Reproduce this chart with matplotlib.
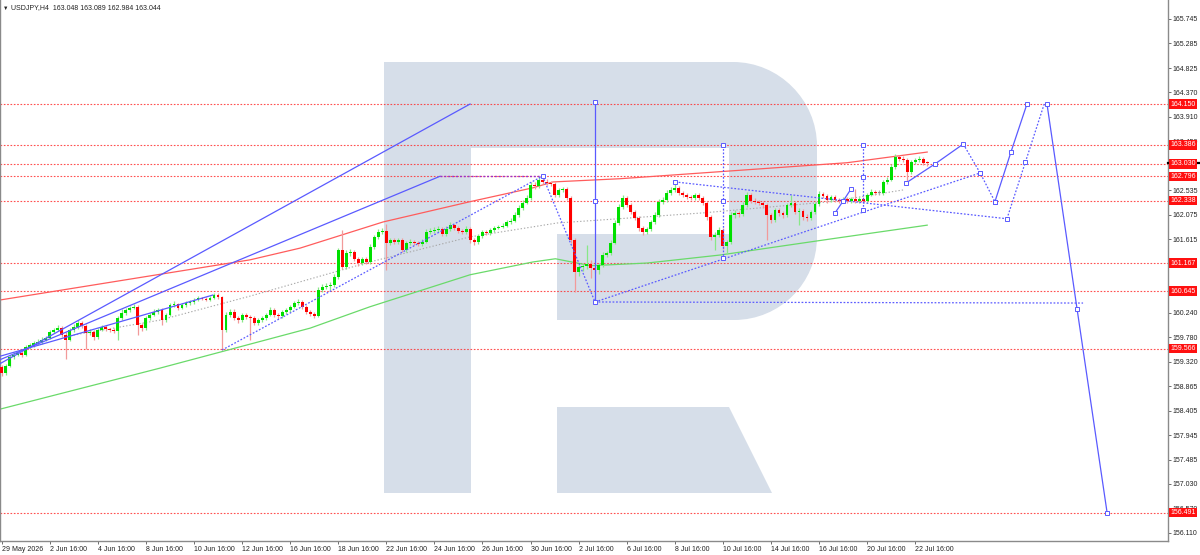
import matplotlib
matplotlib.use("Agg")
import matplotlib.pyplot as plt
from matplotlib.path import Path
from matplotlib.patches import PathPatch, Polygon
from matplotlib.transforms import blended_transform_factory, Affine2D

plt.rcParams['font.family'] = ['Liberation Sans', 'DejaVu Sans']

# ---------------- data ----------------
opens = [159.22, 159.10, 159.24, 159.41, 159.45, 159.48, 159.45, 159.60, 159.63, 159.67,
 159.69, 159.73, 159.77, 159.88, 159.92, 159.95, 159.82, 159.73, 159.92, 159.97,
 160.05, 159.99, 159.86, 159.88, 159.78, 159.92, 159.97, 159.93, 159.92, 159.90,
 160.14, 160.23, 160.29, 160.33, 160.35, 160.01, 159.95, 160.14, 160.20, 160.25,
 160.29, 160.10, 160.20, 160.38, 160.40, 160.33, 160.38, 160.42, 160.44, 160.48,
 160.51, 160.50, 160.48, 160.51, 160.57, 160.53, 159.92, 160.20, 160.25, 160.14,
 160.10, 160.20, 160.16, 160.14, 160.05, 160.10, 160.14, 160.20, 160.29, 160.20,
 160.18, 160.25, 160.29, 160.35, 160.42, 160.44, 160.35, 160.25, 160.22, 160.18,
 160.67, 160.72, 160.74, 160.76, 160.91, 161.42, 161.10, 161.36, 161.38, 161.25,
 161.17, 161.25, 161.19, 161.47, 161.66, 161.75, 161.77, 161.55, 161.60, 161.57,
 161.60, 161.42, 161.55, 161.57, 161.55, 161.53, 161.57, 161.75, 161.77, 161.79,
 161.81, 161.71, 161.81, 161.88, 161.83, 161.77, 161.75, 161.81, 161.60, 161.57,
 161.68, 161.75, 161.73, 161.79, 161.83, 161.85, 161.87, 161.94, 161.96, 162.07,
 162.20, 162.30, 162.39, 162.63, 162.61, 162.73, 162.69, 162.67, 162.65, 162.45,
 162.54, 162.56, 162.39, 161.60, 161.00, 161.10, 161.11, 161.15, 161.08, 161.04,
 161.13, 161.32, 161.36, 161.55, 161.92, 162.22, 162.39, 162.26, 162.13, 162.02,
 161.83, 161.75, 161.81, 161.94, 162.07, 162.32, 162.35, 162.48, 162.54, 162.58,
 162.48, 162.45, 162.41, 162.39, 162.45, 162.39, 162.30, 162.03, 161.66, 161.70,
 161.79, 161.49, 161.57, 162.07, 162.11, 162.09, 162.26, 162.45, 162.33, 162.32,
 162.30, 162.26, 162.07, 161.98, 162.16, 162.11, 162.07, 162.26, 162.30, 162.13,
 162.15, 162.03, 162.02, 162.13, 162.28, 162.46, 162.43, 162.35, 162.41, 162.35,
 162.33, 162.37, 162.33, 162.37, 162.33, 162.37, 162.33, 162.45, 162.50, 162.48,
 162.48, 162.69, 162.73, 162.97, 163.16, 163.12, 163.10, 162.88, 163.07, 163.10,
 163.12, 163.048]

closes = [159.10, 159.24, 159.41, 159.45, 159.48, 159.45, 159.60, 159.63, 159.67, 159.69,
 159.73, 159.77, 159.88, 159.92, 159.95, 159.82, 159.73, 159.92, 159.97, 160.05,
 159.99, 159.86, 159.88, 159.78, 159.92, 159.97, 159.93, 159.92, 159.90, 160.14,
 160.23, 160.29, 160.33, 160.35, 160.01, 159.95, 160.14, 160.20, 160.25, 160.29,
 160.10, 160.20, 160.38, 160.40, 160.33, 160.38, 160.42, 160.44, 160.48, 160.51,
 160.50, 160.48, 160.51, 160.57, 160.53, 159.92, 160.20, 160.25, 160.14, 160.10,
 160.20, 160.16, 160.14, 160.05, 160.10, 160.14, 160.20, 160.29, 160.20, 160.18,
 160.25, 160.29, 160.35, 160.42, 160.44, 160.35, 160.25, 160.22, 160.18, 160.67,
 160.72, 160.74, 160.76, 160.91, 161.42, 161.10, 161.36, 161.38, 161.25, 161.17,
 161.25, 161.19, 161.47, 161.66, 161.75, 161.77, 161.55, 161.60, 161.57, 161.60,
 161.42, 161.55, 161.57, 161.55, 161.53, 161.57, 161.75, 161.77, 161.79, 161.81,
 161.71, 161.81, 161.88, 161.83, 161.77, 161.75, 161.81, 161.60, 161.57, 161.68,
 161.75, 161.73, 161.79, 161.83, 161.85, 161.87, 161.94, 161.96, 162.07, 162.20,
 162.30, 162.39, 162.63, 162.61, 162.73, 162.69, 162.67, 162.65, 162.45, 162.54,
 162.56, 162.39, 161.60, 161.00, 161.10, 161.11, 161.15, 161.08, 161.04, 161.13,
 161.32, 161.36, 161.55, 161.92, 162.22, 162.39, 162.26, 162.13, 162.02, 161.83,
 161.75, 161.81, 161.94, 162.07, 162.32, 162.35, 162.48, 162.54, 162.58, 162.48,
 162.45, 162.41, 162.39, 162.45, 162.39, 162.30, 162.03, 161.66, 161.70, 161.79,
 161.49, 161.57, 162.07, 162.11, 162.09, 162.26, 162.45, 162.33, 162.32, 162.30,
 162.26, 162.07, 161.98, 162.16, 162.11, 162.07, 162.26, 162.30, 162.13, 162.15,
 162.03, 162.02, 162.13, 162.28, 162.46, 162.43, 162.35, 162.41, 162.35, 162.33,
 162.37, 162.33, 162.37, 162.33, 162.37, 162.33, 162.45, 162.50, 162.48, 162.48,
 162.69, 162.73, 162.97, 163.16, 163.12, 163.10, 162.88, 163.07, 163.10, 163.12,
 163.05, 163.044]

highs = [159.26, 159.28, 159.45, 159.50, 159.53, 159.52, 159.64, 159.68, 159.71, 159.74,
 159.78, 159.81, 159.92, 159.96, 160.00, 159.99, 159.88, 159.96, 160.02, 160.10,
 160.08, 160.03, 159.93, 159.92, 159.96, 160.01, 160.00, 159.96, 159.95, 160.18,
 160.30, 160.33, 160.37, 160.40, 160.38, 160.05, 160.18, 160.24, 160.30, 160.33,
 160.32, 160.24, 160.42, 160.45, 160.43, 160.42, 160.46, 160.48, 160.52, 160.55,
 160.54, 160.53, 160.55, 160.61, 160.60, 160.56, 160.25, 160.30, 160.30, 160.18,
 160.24, 160.23, 160.20, 160.18, 160.14, 160.18, 160.24, 160.34, 160.33, 160.24,
 160.29, 160.33, 160.39, 160.46, 160.49, 160.48, 160.38, 160.29, 160.26, 160.72,
 160.78, 160.79, 160.82, 160.96, 161.46, 161.79, 161.41, 161.43, 161.42, 161.29,
 161.29, 161.28, 161.52, 161.70, 161.80, 161.82, 161.90, 161.64, 161.64, 161.64,
 161.63, 161.59, 161.62, 161.61, 161.59, 161.62, 161.80, 161.82, 161.84, 161.86,
 161.85, 161.86, 161.93, 161.91, 161.87, 161.81, 161.86, 161.84, 161.64, 161.72,
 161.79, 161.79, 161.83, 161.87, 161.89, 161.92, 161.98, 162.01, 162.12, 162.25,
 162.35, 162.44, 162.68, 162.69, 162.78, 162.80, 162.74, 162.71, 162.68, 162.58,
 162.60, 162.59, 162.42, 161.63, 161.14, 161.16, 161.51, 161.23, 161.12, 161.17,
 161.37, 161.40, 161.60, 161.97, 162.27, 162.45, 162.43, 162.30, 162.17, 162.06,
 161.87, 161.85, 161.98, 162.12, 162.37, 162.40, 162.53, 162.59, 162.73, 162.62,
 162.52, 162.49, 162.45, 162.49, 162.49, 162.43, 162.34, 162.07, 161.75, 161.84,
 161.83, 161.61, 162.12, 162.16, 162.15, 162.31, 162.50, 162.49, 162.38, 162.36,
 162.34, 162.30, 162.11, 162.20, 162.20, 162.15, 162.30, 162.45, 162.34, 162.20,
 162.19, 162.08, 162.17, 162.32, 162.52, 162.50, 162.47, 162.45, 162.44, 162.39,
 162.41, 162.40, 162.41, 162.55, 162.41, 162.41, 162.49, 162.55, 162.54, 162.53,
 162.73, 162.78, 163.02, 163.22, 163.20, 163.17, 163.14, 163.11, 163.14, 163.17,
 163.15, 163.089]

lows = [159.05, 159.08, 159.22, 159.38, 159.42, 159.40, 159.43, 159.56, 159.60, 159.64,
 159.65, 159.70, 159.74, 159.85, 159.89, 159.78, 159.38, 159.70, 159.88, 159.94,
 159.95, 159.56, 159.82, 159.72, 159.75, 159.89, 159.89, 159.88, 159.86, 159.73,
 160.10, 160.20, 160.26, 160.30, 159.82, 159.90, 159.92, 160.10, 160.17, 160.22,
 160.01, 160.06, 160.17, 160.35, 160.29, 160.30, 160.35, 160.39, 160.41, 160.45,
 160.47, 160.45, 160.45, 160.49, 160.50, 159.54, 159.88, 160.16, 160.10, 160.05,
 160.06, 160.12, 159.73, 160.00, 160.01, 160.06, 160.10, 160.17, 160.16, 160.13,
 160.14, 160.22, 160.26, 160.32, 160.39, 160.31, 160.21, 160.18, 160.14, 160.15,
 160.62, 160.68, 160.66, 160.72, 160.88, 161.05, 161.05, 161.30, 161.20, 161.12,
 161.13, 161.15, 161.16, 161.44, 161.62, 161.71, 161.04, 161.50, 161.52, 161.53,
 161.37, 161.38, 161.51, 161.50, 161.48, 161.49, 161.54, 161.71, 161.73, 161.75,
 161.67, 161.68, 161.77, 161.79, 161.73, 161.71, 161.71, 161.55, 161.50, 161.53,
 161.64, 161.69, 161.70, 161.76, 161.80, 161.82, 161.84, 161.91, 161.93, 162.04,
 162.17, 162.27, 162.36, 162.56, 162.58, 162.65, 162.63, 162.61, 162.40, 162.41,
 162.50, 162.35, 161.55, 160.63, 160.92, 161.02, 161.06, 160.89, 160.98, 160.96,
 161.09, 161.28, 161.32, 161.52, 161.88, 162.18, 162.22, 162.08, 161.97, 161.77,
 161.70, 161.71, 161.77, 161.90, 162.04, 162.28, 162.31, 162.44, 162.50, 162.44,
 162.40, 162.37, 162.35, 162.35, 162.35, 162.26, 161.98, 161.60, 161.42, 161.66,
 161.44, 161.33, 161.53, 162.01, 162.04, 162.05, 162.22, 162.29, 162.27, 162.25,
 162.21, 161.60, 161.92, 161.94, 162.06, 162.02, 162.03, 162.22, 162.08, 161.88,
 161.98, 161.96, 161.97, 162.09, 162.24, 162.38, 162.30, 162.31, 162.31, 162.29,
 162.29, 162.29, 162.29, 162.29, 162.29, 162.29, 162.30, 162.42, 162.44, 162.44,
 162.45, 162.65, 162.70, 162.93, 163.08, 163.06, 162.67, 162.84, 163.03, 163.07,
 163.01, 162.984]

time_labels = ["29 May 2026", "2 Jun 16:00", "4 Jun 16:00", "8 Jun 16:00", "10 Jun 16:00",
               "12 Jun 16:00", "16 Jun 16:00", "18 Jun 16:00", "22 Jun 16:00", "24 Jun 16:00",
               "26 Jun 16:00", "30 Jun 16:00", "2 Jul 16:00", "6 Jul 16:00", "8 Jul 16:00",
               "10 Jul 16:00", "14 Jul 16:00", "16 Jul 16:00", "20 Jul 16:00", "22 Jul 16:00"]
time_label_bars = [0, 12, 24, 36, 48, 60, 72, 84, 96, 108, 120, 132, 144, 156, 168,
                   180, 192, 204, 216, 228]

# price scale labels that are visible in the picture (those fully covered
# by level boxes are left out)
price_ticks = [165.745, 165.285, 164.825, 164.370, 163.910, 163.450, 162.535,
               162.075, 161.615, 160.700, 160.240, 159.780, 159.320, 158.865,
               158.405, 157.945, 157.485, 157.030, 156.570, 156.110]
levels = [164.150, 163.386, 163.030, 162.796, 162.338, 161.167, 160.645, 159.566, 156.491]
header = "USDJPY,H4  163.048 163.089 162.984 163.044"
last_bid = 163.044

# moving averages (bar index, price)
ma_red_x = [-1, 62.0, 74.5, 95.2, 116.9, 132.6, 137.6, 154.3, 211.0, 231.0]
ma_red_y = [160.47, 161.23, 161.45, 161.94, 162.32, 162.58, 162.69, 162.75, 163.05, 163.25]
ma_green_x = [-1, 39.5, 77.0, 91.9, 116.9, 132.6, 138.2, 147.0, 161.1, 179.3, 206.8, 231.0]
ma_green_y = [158.42, 159.20, 159.95, 160.35, 160.95, 161.19, 161.25, 161.12, 161.17, 161.32, 161.62, 161.88]
ma_grey_x = [16.3, 39.5, 62.0, 91.9, 116.9, 138.6, 175.1, 206.8, 225.0]
ma_grey_y = [159.80, 160.10, 160.55, 161.19, 161.66, 161.92, 162.11, 162.32, 162.54]

# analysis lines (bar index, price)
fan_a_x, fan_a_y = [-1, 116.9], [159.26, 164.150]
fan_b_x, fan_b_y = [-1, 109.4], [159.34, 162.796]
fan_c_x, fan_c_y = [-1, 52.7], [159.41, 160.57]
top_flat_x, top_flat_y = [109.4, 135.0], [162.796, 162.796]
rise_x, rise_y = [55.0, 135.0], [159.54, 162.80]
drop_x, drop_y = [135.0, 148.1], [162.80, 160.44]
base_x, base_y = [148.1, 269.9], [160.44, 160.42]
vert1_x, vert1_y = [148.1, 148.1, 148.1], [164.19, 162.33, 160.44]
trend_x, trend_y = [148.1, 244.2], [160.44, 162.858]
vert2_x, vert2_y = [180.1, 180.1, 180.1], [163.383, 162.33, 161.265]
vert3_x, vert3_y = [215.0, 215.0, 215.0], [163.383, 162.78, 162.165]
upper_x, upper_y = [168.1, 250.9], [162.69, 162.00]
alt_up_x, alt_up_y = [250.9, 255.5, 260.2], [162.00, 163.06, 164.150]
small_x, small_y = [208.0, 210.0, 212.0], [162.11, 162.33, 162.56]
fc1_x, fc1_y = [225.7, 233.0, 240.0], [162.67, 163.03, 163.40]
fc2_x, fc2_y = [240.0, 244.2, 247.9], [163.40, 162.86, 162.32]
fc3_x, fc3_y = [247.9, 251.9, 255.9], [162.32, 163.25, 164.150]
fc4_x, fc4_y = [260.9, 268.4, 275.9], [164.150, 160.31, 156.491]

# ---------------- figure ----------------
W, H = 1200, 555
fig = plt.figure(figsize=(W / 100, H / 100), dpi=100)
fig.patch.set_facecolor('white')
ax = fig.add_axes([0.0, 14 / H, 1168 / W, 541 / H])
ax.set_facecolor('white')
ax.set_xlim(-0.42, 291.1)
ax.set_ylim(155.96, 166.10)

# watermark logo (pixel layout of the page)
px = Affine2D().scale(1 / W, -1 / H).translate(0, 1) + fig.transFigure
k = 46
verts = [(384, 62), (733, 62), (733 + k, 62), (817, 146 - k), (817, 146), (817, 237),
         (817, 237 + k), (734 + k, 320), (734, 320), (557, 320), (557, 234), (729, 234),
         (729, 148), (471, 148), (471, 493), (384, 493), (384, 62)]
codes = [Path.MOVETO, Path.LINETO, Path.CURVE4, Path.CURVE4, Path.CURVE4, Path.LINETO,
         Path.CURVE4, Path.CURVE4, Path.CURVE4, Path.LINETO, Path.LINETO, Path.LINETO,
         Path.LINETO, Path.LINETO, Path.LINETO, Path.LINETO, Path.CLOSEPOLY]
logo_col = '#d6dee9'
ax.add_patch(PathPatch(Path(verts, codes), transform=px, fc=logo_col, ec='none', zorder=0))
ax.add_patch(Polygon([(557, 407), (729, 407), (772, 493), (557, 493)], closed=True,
                     transform=px, fc=logo_col, ec='none', zorder=0))

# level lines
for lv in levels:
    ax.axhline(lv, color='#ff3030', lw=0.8, ls=(0, (1.5, 1.5)), alpha=0.85, zorder=1)

# moving averages
ax.plot(ma_red_x, ma_red_y, color='#ff5c5c', lw=0.9, zorder=2)
ax.plot(ma_green_x, ma_green_y, color='#6ada6a', lw=0.9, zorder=2)
ax.plot(ma_grey_x, ma_grey_y, color='#a8a8a8', lw=0.8, ls=(0, (1.2, 1.8)), zorder=2)

# candles
xs = list(range(len(closes)))
up_c, dn_c, dj_c = '#00e000', '#ff0000', '#909090'
up_w, dn_w, dj_w = '#88e888', '#f29a9a', '#b0b0b0'
body_col, wick_col, bottoms, heights = [], [], [], []
for o, c in zip(opens, closes):
    if abs(c - o) < 1e-9:
        body_col.append(dj_c); wick_col.append(dj_w)
    elif c > o:
        body_col.append(up_c); wick_col.append(up_w)
    else:
        body_col.append(dn_c); wick_col.append(dn_w)
    bottoms.append(min(o, c))
    heights.append(max(abs(c - o), 0.012))
ax.vlines(xs, lows, highs, colors=wick_col, lw=0.9, zorder=3)
ax.bar(xs, heights, bottom=bottoms, width=0.72, color=body_col, lw=0, zorder=4)

# analysis lines
blue = '#5a5aff'
dot = (0, (1.4, 1.4))
ax.plot(fan_a_x, fan_a_y, color=blue, lw=0.9, zorder=5)
ax.plot(fan_b_x, fan_b_y, color=blue, lw=0.9, zorder=5)
ax.plot(fan_c_x, fan_c_y, color=blue, lw=0.9, zorder=5)
ax.plot(top_flat_x, top_flat_y, color='#9a30c8', lw=1.0, ls=dot, zorder=5)
for lx, ly in [(rise_x, rise_y), (drop_x, drop_y), (base_x, base_y), (trend_x, trend_y),
               (vert2_x, vert2_y), (vert3_x, vert3_y), (upper_x, upper_y),
               (alt_up_x, alt_up_y), (fc2_x, fc2_y)]:
    ax.plot(lx, ly, color=blue, lw=0.9, ls=dot, zorder=5)
for lx, ly in [(vert1_x, vert1_y), (small_x, small_y), (fc1_x, fc1_y), (fc3_x, fc3_y),
               (fc4_x, fc4_y)]:
    ax.plot(lx, ly, color=blue, lw=0.9, zorder=5)

mk_x = (vert1_x + vert2_x + vert3_x + small_x + fc1_x + fc2_x[1:] + fc3_x + fc4_x
        + [rise_x[1], upper_x[0], upper_x[1], alt_up_x[1], trend_x[1]])
mk_y = (vert1_y + vert2_y + vert3_y + small_y + fc1_y + fc2_y[1:] + fc3_y + fc4_y
        + [rise_y[1], upper_y[0], upper_y[1], alt_up_y[1], trend_y[1]])
ax.plot(mk_x, mk_y, ls='none', marker='s', ms=2.6, mfc='white', mec=blue, mew=0.7, zorder=6)

# axes styling
ax.spines['top'].set_visible(False)
for s in ['left', 'right', 'bottom']:
    ax.spines[s].set_color('#8a8a8a')
    ax.spines[s].set_linewidth(1.0)
ax.yaxis.tick_right()
ax.set_yticks(price_ticks)
ax.set_yticklabels([f"{v:.3f}" for v in price_ticks])
ax.set_xticks(time_label_bars)
ax.set_xticklabels(time_labels)
for lab in ax.get_xticklabels():
    lab.set_horizontalalignment('left')
ax.tick_params(axis='y', labelsize=5, length=2.5, width=0.6, color='#555555',
               labelcolor='#222222', pad=1)
ax.tick_params(axis='x', labelsize=5, length=2.5, width=0.6, color='#555555',
               labelcolor='#222222', pad=1)

# price labels of levels
trans = blended_transform_factory(ax.transAxes, ax.transData)
ax.plot([1.0, 1.03], [last_bid, last_bid], transform=trans, color='black', lw=1.6,
        clip_on=False, zorder=15)
for lv in levels:
    ax.text(1.0 + 2.5 / 1168, lv, f"{lv:.3f}", transform=trans, ha='left', va='center',
            fontsize=5, color='white', clip_on=False, zorder=20,
            bbox=dict(boxstyle='square,pad=0.18', fc='#ff1010', ec='none'))

# header
fig.text(3 / W, 1 - 8 / H, "\u25BC", fontsize=4, va='center', ha='left', color='#222222')
fig.text(11 / W, 1 - 8 / H, header, fontsize=5, va='center', ha='left', color='#222222')

fig.savefig('out.png', dpi=100, facecolor='white')
